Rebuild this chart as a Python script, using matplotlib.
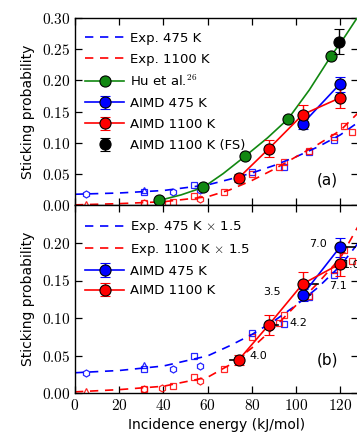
import numpy as np
import matplotlib
matplotlib.use('Agg')
import matplotlib.pyplot as plt
from matplotlib.lines import Line2D

plt.rcParams['mathtext.fontset'] = 'cm'
plt.rcParams['font.family'] = 'DejaVu Sans'

# --- experimental data (top panel values; bottom panel shows them x 1.5) ---
exp475_sq_x = [31.2, 54.0, 80.0, 94.7, 105.8, 117.0]
exp475_sq_y = [0.021, 0.033, 0.053, 0.0615, 0.085, 0.105]
exp475_tri_x = [31.2]
exp475_tri_y = [0.025]
exp475_hex_x = [4.8, 44.5, 56.6]
exp475_hex_y = [0.018, 0.021, 0.024]

exp1100_sq_x = [31.2, 44.5, 54.0, 67.3, 80.0, 92.1, 94.7, 105.8, 117.0, 121.5, 125.2]
exp1100_sq_y = [0.004, 0.006, 0.0145, 0.021, 0.05, 0.062, 0.069, 0.0865, 0.109, 0.127, 0.117]
exp1100_tri_x = [4.8]
exp1100_tri_y = [0.002]
exp1100_hex_x = [31.2, 39.3, 56.6]
exp1100_hex_y = [0.004, 0.0045, 0.011]

fit_x = [0, 20, 40, 60, 70, 80, 90, 100, 110, 120, 130]
fit475_y = [0.018, 0.020, 0.024, 0.033, 0.042, 0.052, 0.064, 0.078, 0.094, 0.113, 0.138]
fit1100_y = [0.001, 0.003, 0.006, 0.014, 0.025, 0.040, 0.058, 0.078, 0.098, 0.120, 0.155]

# Hu et al. points and curve
hu_x = [38.2, 57.8, 77.1, 96.5, 115.6]
hu_y = [0.009, 0.029, 0.079, 0.139, 0.239]
hu_curve_x = [38, 48, 58, 67, 77, 87, 96.5, 106, 115.6, 122, 128.5]
hu_curve_y = [0.008, 0.017, 0.029, 0.051, 0.079, 0.108, 0.139, 0.185, 0.238, 0.27, 0.305]

# AIMD
aimd475_x = [103.0, 119.7]
aimd475_y = [0.131, 0.194]
aimd475_err = [0.008, 0.012]
aimd1100_x = [74.0, 87.7, 103.0, 119.7]
aimd1100_y = [0.044, 0.091, 0.1455, 0.172]
aimd1100_err = [0.007, 0.013, 0.016, 0.016]
fs_x = [119.4]
fs_y = [0.262]
fs_err = [0.02]

# energy shifts (bottom panel)
shift475 = [3.5, 7.0]
shift1100 = [-4.0, 4.2, 7.1, 1.0]
shift475_lbl = ['3.5', '7.0']
shift1100_lbl = ['4.0', '4.2', '7.1', '1.0']

xticks = [0, 20, 40, 60, 80, 100, 120]
yticks_a = [0.0, 0.05, 0.10, 0.15, 0.20, 0.25, 0.30]
yticks_b = [0.0, 0.05, 0.10, 0.15, 0.20]

BLUE = '#0000ff'
RED = '#ff0000'
GREEN = '#118811'

fig = plt.figure(figsize=(3.57, 4.42), dpi=100)
L, R, B, T = 75 / 357, 358 / 357, 49 / 442, 424 / 442
H = (T - B) / 2
ax_a = fig.add_axes([L, B + H, R - L, H])
ax_b = fig.add_axes([L, B, R - L, H])


def exp_markers(ax, scale):
    s = lambda v: np.array(v) * scale
    kw = dict(ls='none', mfc='none', ms=5, mew=0.9, alpha=0.85)
    ax.plot(exp475_sq_x, s(exp475_sq_y), 's', mec=BLUE, **kw)
    ax.plot(exp475_tri_x, s(exp475_tri_y), '^', mec=BLUE, **kw)
    ax.plot(exp475_hex_x, s(exp475_hex_y), 'h', mec=BLUE, **kw)
    ax.plot(exp1100_sq_x, s(exp1100_sq_y), 's', mec=RED, **kw)
    ax.plot(exp1100_tri_x, s(exp1100_tri_y), '^', mec=RED, **kw)
    ax.plot(exp1100_hex_x, s(exp1100_hex_y), 'h', mec=RED, **kw)


def aimd(ax):
    kw = dict(fmt='-o', ms=8, mec='black', mew=0.8, capsize=3.5, elinewidth=1.0, lw=1.2, zorder=5)
    h1 = ax.errorbar(aimd475_x, aimd475_y, yerr=aimd475_err, color=BLUE, **kw)
    h2 = ax.errorbar(aimd1100_x, aimd1100_y, yerr=aimd1100_err, color=RED, **kw)
    return h1, h2


leg_kw = dict(loc='upper left', bbox_to_anchor=(-0.012, 1.0), frameon=False, fontsize=9.5,
              handlelength=2.9, labelspacing=0.6, borderaxespad=0.65, handletextpad=0.5)

# ---------- panel (a) ----------
exp_markers(ax_a, 1.0)
l1, = ax_a.plot(fit_x, fit475_y, '--', color=BLUE, lw=1.2, dashes=(5, 4))
l2, = ax_a.plot(fit_x, fit1100_y, '--', color=RED, lw=1.2, dashes=(5, 4))
ax_a.plot(hu_curve_x, hu_curve_y, '-', color=GREEN, lw=1.2, zorder=3)
ax_a.plot(hu_x, hu_y, 'o', color=GREEN, mec='black', mew=0.8, ms=8, zorder=4)
h_hu = Line2D([], [], color=GREEN, marker='o', mec='black', mew=0.8, ms=8, lw=1.2)
h1, h2 = aimd(ax_a)
h3 = ax_a.errorbar(fs_x, fs_y, yerr=fs_err, fmt='o', color='black', ms=8, mew=0.8,
                   capsize=3.5, elinewidth=1.0, zorder=6)
ax_a.legend([l1, l2, h_hu, h1, h2, h3],
            ['Exp. 475 K', 'Exp. 1100 K', 'Hu et al.$^{26}$', 'AIMD 475 K',
             'AIMD 1100 K', 'AIMD 1100 K (FS)'], **leg_kw)
ax_a.text(0.93, 0.134, '(a)', transform=ax_a.transAxes, fontsize=11, ha='right', va='center')
ax_a.set_ylim(0, 0.30)

# ---------- panel (b) ----------
exp_markers(ax_b, 1.5)
m1, = ax_b.plot(fit_x, np.array(fit475_y) * 1.5, '--', color=BLUE, lw=1.2, dashes=(5, 4))
m2, = ax_b.plot(fit_x, np.array(fit1100_y) * 1.5, '--', color=RED, lw=1.2, dashes=(5, 4))
g1, g2 = aimd(ax_b)
for xs, ys, sh in [(aimd475_x, aimd475_y, shift475), (aimd1100_x, aimd1100_y, shift1100)]:
    for x, y, d in zip(xs, ys, sh):
        ax_b.plot([x, x + d], [y, y], '-', color='black', lw=1.2, zorder=4)
# shift labels
lbl_off475 = [(-22, 3, 'right'), (-13, 3, 'right')]
lbl_off1100 = [(11, 4, 'left'), (21, 2, 'left'), (26, -2, 'left'), (3, -1, 'left')]
for xs, ys, lbls, offs in [(aimd475_x, aimd475_y, shift475_lbl, lbl_off475),
                           (aimd1100_x, aimd1100_y, shift1100_lbl, lbl_off1100)]:
    for x, y, t, (dx, dy, ha) in zip(xs, ys, lbls, offs):
        ax_b.annotate(t, (x, y), xytext=(dx, dy), textcoords='offset pixels',
                      fontsize=8, ha=ha, va='center', zorder=7)
ax_b.legend([m1, m2, g1, g2],
            [r'Exp. 475 K $\times$ 1.5', r'Exp. 1100 K $\times$ 1.5', 'AIMD 475 K', 'AIMD 1100 K'],
            **dict(leg_kw, labelspacing=0.5))
ax_b.text(0.93, 0.176, '(b)', transform=ax_b.transAxes, fontsize=11, ha='right', va='center')
ax_b.set_ylim(0, 0.25)

for ax, yt in [(ax_a, yticks_a), (ax_b, yticks_b)]:
    ax.set_xlim(0, 128)
    ax.set_xticks(xticks, [f'${t}$' for t in xticks])
    ax.set_yticks(yt, [f'${t:.2f}$' for t in yt])
    ax.tick_params(direction='in', top=True, right=True, length=5, width=0.9, labelsize=11)
    ax.set_ylabel('Sticking probability', fontsize=10, labelpad=5)
    for s in ax.spines.values():
        s.set_linewidth(1.0)
ax_a.tick_params(labelbottom=False)
ax_b.set_xlabel('Incidence energy (kJ/mol)', fontsize=10)

fig.savefig('out.png', dpi=100)
